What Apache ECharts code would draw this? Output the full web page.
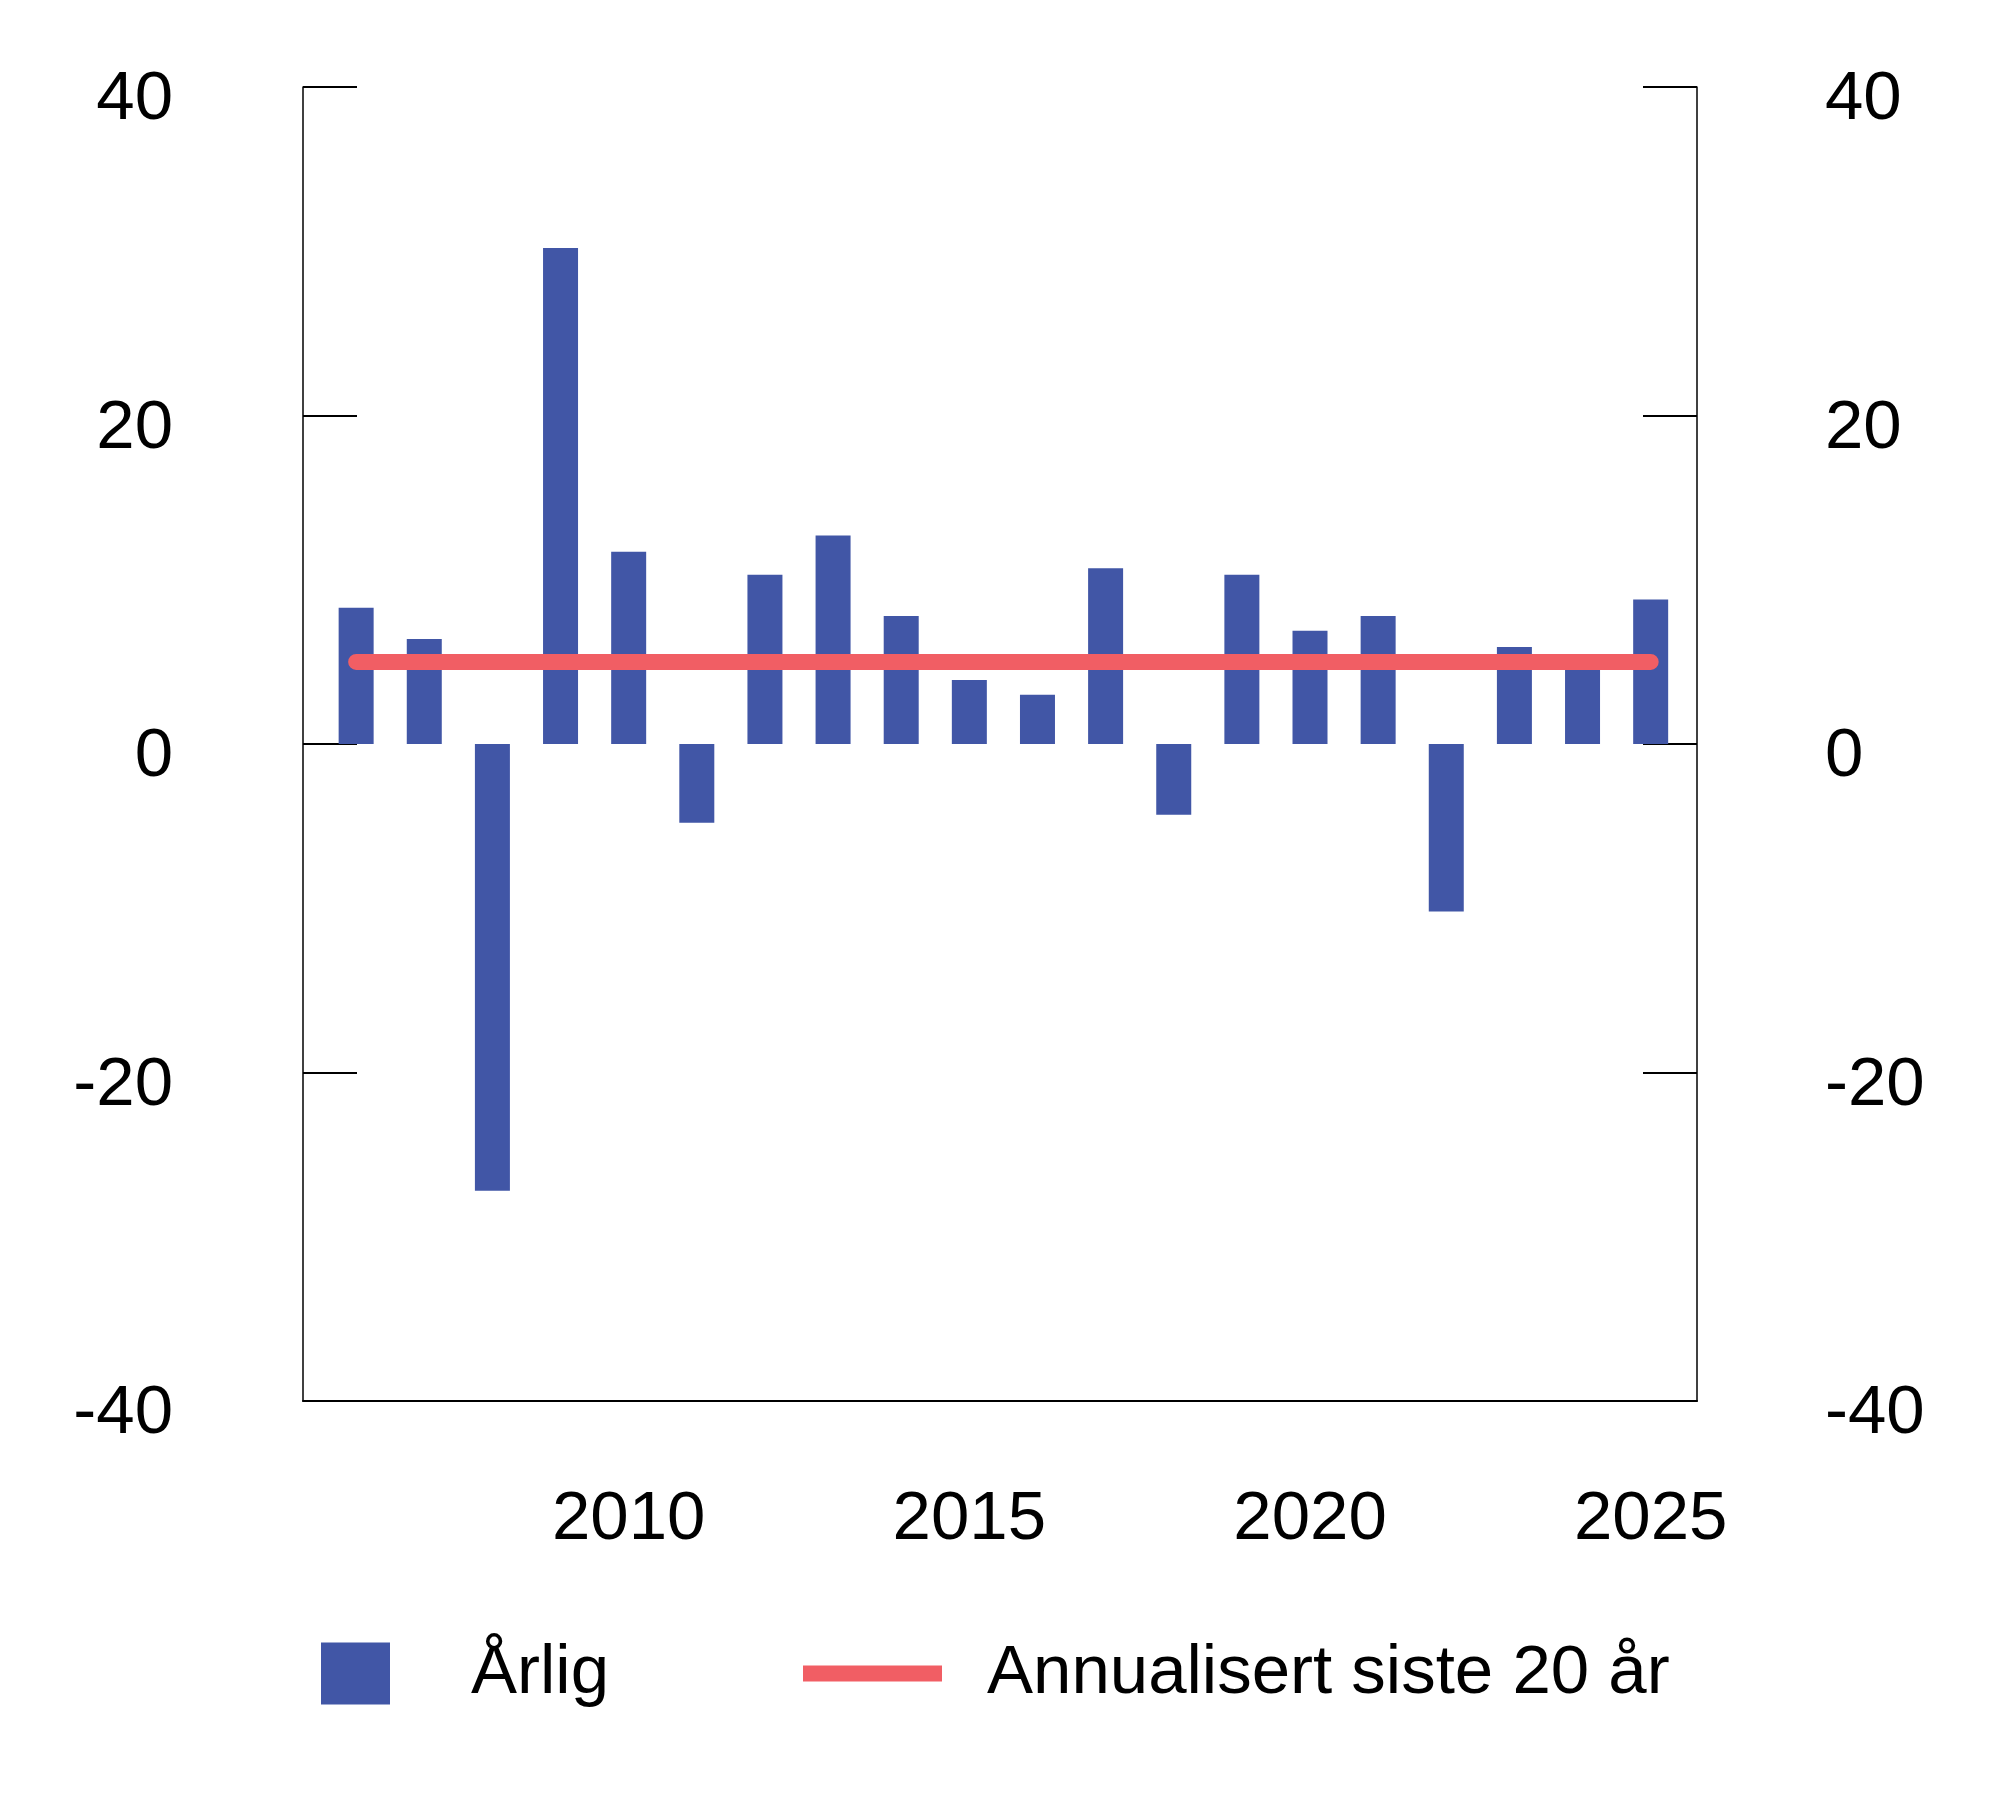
<!DOCTYPE html>
<html>
<head>
<meta charset="utf-8">
<script src="https://cdn.jsdelivr.net/npm/echarts@6/dist/echarts.min.js"></script>
<style>
  html, body { margin: 0; padding: 0; background: #ffffff; }
  #chart { width: 2000px; height: 1816px; }
</style>
</head>
<body>
<div id="chart"></div>
<script>
// ---- Data ----
const years = [2006, 2007, 2008, 2009, 2010, 2011, 2012, 2013, 2014, 2015,
               2016, 2017, 2018, 2019, 2020, 2021, 2022, 2023, 2024, 2025];
const annualValues = [8.3, 6.4, -27.2, 30.2, 11.7, -4.8, 10.3, 12.7, 7.8, 3.9,
                      3.0, 10.7, -4.3, 10.3, 6.9, 7.8, -10.2, 5.9, 4.9, 8.8];
const annualisedValues = [5.0, 5.0, 5.0, 5.0, 5.0, 5.0, 5.0, 5.0, 5.0, 5.0,
                          5.0, 5.0, 5.0, 5.0, 5.0, 5.0, 5.0, 5.0, 5.0, 5.0];
const xTickLabels = [2010, 2015, 2020, 2025];
const yTicks = [-40, -20, 0, 20, 40];
const seriesNames = ['Årlig', 'Annualisert siste 20 år'];

const barColor = '#4156a6';
const lineColor = '#f15e64';
const fontFamily = '"Liberation Sans", Arial, sans-serif';
const fontSize = 69;

const chart = echarts.init(document.getElementById('chart'), null, { renderer: 'canvas' });

const yAxisCommon = {
  type: 'value',
  min: yTicks[0],
  max: yTicks[yTicks.length - 1],
  interval: 20,
  splitLine: { show: false },
  axisLine: { show: true, lineStyle: { color: '#000', width: 1.5 } },
  axisTick: { show: true, inside: true, length: 54, lineStyle: { color: '#000', width: 2 } }
};

const yLabelRich = { v: { fontFamily, fontSize, color: '#000', padding: [26, 0, 0, 0] } };

const option = {
  backgroundColor: '#ffffff',
  animation: false,
  grid: { left: 303, right: 303, top: 87, bottom: 415, containLabel: false },
  legend: [
    {
      data: [seriesNames[0]],
      left: 316, top: 1634,
      itemWidth: 69, itemHeight: 62,
      icon: 'rect',
      textStyle: { fontFamily, fontSize, color: '#000', padding: [0, 0, 0, 76] }
    },
    {
      data: [seriesNames[1]],
      left: 798, top: 1634,
      itemWidth: 139, itemHeight: 16,
      icon: 'rect',
      textStyle: { fontFamily, fontSize, color: '#000', padding: [0, 0, 0, 40] }
    }
  ],
  xAxis: {
    type: 'value',
    min: 2005.22,
    max: 2025.68,
    splitLine: { show: false },
    axisLine: { show: true, onZero: false, lineStyle: { color: '#000', width: 2 } },
    axisTick: { show: false },
    axisLabel: {
      customValues: xTickLabels,
      fontFamily, fontSize, color: '#000', margin: 84,
      formatter: v => String(v)
    }
  },
  yAxis: [
    Object.assign({}, yAxisCommon, {
      position: 'left',
      axisLabel: { margin: 130, formatter: '{v|{value}}', rich: yLabelRich }
    }),
    Object.assign({}, yAxisCommon, {
      position: 'right',
      axisLabel: { margin: 128, formatter: '{v|{value}}', rich: yLabelRich }
    })
  ],
  series: [
    {
      name: seriesNames[0],
      type: 'bar',
      yAxisIndex: 0,
      barWidth: 35,
      itemStyle: { color: barColor },
      data: years.map((y, i) => [y, annualValues[i]])
    },
    {
      name: seriesNames[1],
      type: 'line',
      yAxisIndex: 0,
      symbol: 'none',
      itemStyle: { color: lineColor },
      lineStyle: { color: lineColor, width: 16, cap: 'round' },
      data: years.map((y, i) => [y, annualisedValues[i]])
    }
  ]
};

chart.setOption(option);
</script>
</body>
</html>
